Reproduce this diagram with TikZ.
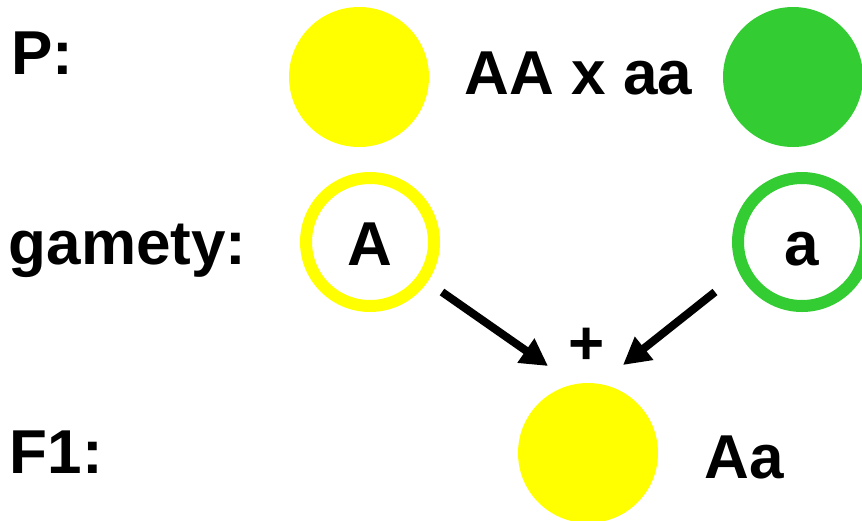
\documentclass[tikz,border=0pt]{standalone}
\usepackage{fontspec}
\setmainfont{Liberation Sans}
\usetikzlibrary{arrows.meta}
\definecolor{yel}{RGB}{255,255,0}
\definecolor{grn}{RGB}{51,204,51}
\tikzset{
  lbl/.style={font=\fontsize{62pt}{68pt}\selectfont\bfseries, inner sep=0pt},
  disc/.style={circle, fill=#1, minimum size=140pt, inner sep=0pt},
  ring/.style={circle, draw=#1, line width=12pt, minimum size=128pt, inner sep=0pt,
    font=\fontsize{62pt}{68pt}\selectfont\bfseries, text height=46pt, text depth=0pt},
  arr/.style={line width=8pt, -{Triangle[length=27pt,width=28pt]}}
}
\begin{document}
\begin{tikzpicture}[x=1pt,y=-1pt]
\useasboundingbox (0,0) rectangle (862,520);
% row labels
\node[lbl, anchor=base west] (lp) at (11,74) {P:};
\node[lbl, anchor=base west] (lg) at (8.5,264) {gamety:};
\node[lbl, anchor=base west] (lf) at (9.5,473) {F1:};
% parents
\node[disc=yel] (pa) at (359,77) {};
\node[disc=grn] (pb) at (793,77) {};
\node[lbl, anchor=base] (cross) at (578.5,94) {AA x aa};
% gametes
\node[ring=yel] (ga) at (370,242) {A};
\node[ring=grn] (gb) at (802,242) {a};
% F1
\node[disc=yel] (f1) at (588,453) {};
\node[lbl, anchor=base] (f1t) at (744,478) {Aa};
\node[lbl, anchor=base] (plus) at (587,364) {+};
% arrows
\coordinate (a1s) at (442,292);
\coordinate (a1e) at (548,366);
\coordinate (a2s) at (715,292);
\coordinate (a2e) at (623,365);
\draw[arr] (a1s) -- (a1e);
\draw[arr] (a2s) -- (a2e);
\end{tikzpicture}
\end{document}
